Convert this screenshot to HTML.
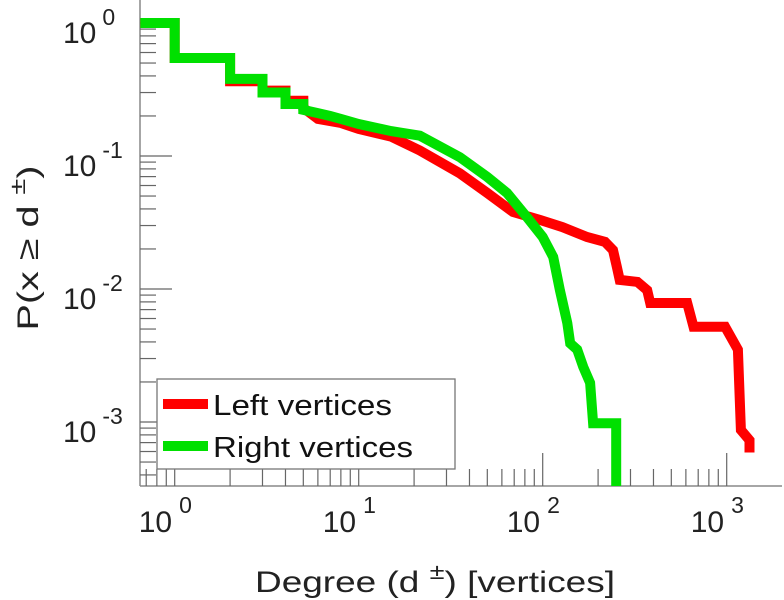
<!DOCTYPE html>
<html><head><meta charset="utf-8"><style>
html,body{margin:0;padding:0;background:#fff;}
svg{display:block;font-family:"Liberation Sans",sans-serif;}
</style></head><body>
<svg id="chart" width="784" height="600" viewBox="0 0 784 600" xmlns="http://www.w3.org/2000/svg">
<g id="axes"></g>
<g id="series"></g>
<g id="legend">
  <rect x="157" y="379" width="298" height="90" fill="#fff" stroke="#777" stroke-width="1.3"/>
  <line x1="163" y1="404" x2="208" y2="404" stroke="#ff0000" stroke-width="10"/>
  <text x="213" y="415" font-size="29" fill="#111" textLength="179" lengthAdjust="spacingAndGlyphs">Left vertices</text>
  <line x1="163" y1="446" x2="208" y2="446" stroke="#00e000" stroke-width="10"/>
  <text x="213" y="457" font-size="29" fill="#111" textLength="200" lengthAdjust="spacingAndGlyphs">Right vertices</text>
</g>
<text transform="translate(38,248) rotate(-90)" text-anchor="middle" font-size="30" fill="#222" textLength="165" lengthAdjust="spacingAndGlyphs">P(x ≥ d <tspan dy="-13" font-size="22">±</tspan><tspan dy="13">)</tspan></text>
<text x="435" y="592" text-anchor="middle" font-size="30" fill="#222" textLength="360" lengthAdjust="spacingAndGlyphs">Degree (d  <tspan dy="-13" font-size="22">±</tspan><tspan dy="13">) [vertices]</tspan></text>
</svg>
<script>
const xTicks = [1, 10, 100, 1000];
const xTickExp = ["0", "1", "2", "3"];
const yTicks = [1, 0.1, 0.01, 0.001];
const yTickExp = ["0", "-1", "-2", "-3"];
const leftDeg = [0.65,1,1,2,2,3,3,4,4,5,5,6,8,10,15,21.5,35.5,50,69,97,128,174,218,241,253,262,327,370,384,610,660,980,1150,1195,1330,1330];
const leftP = [1,1,0.546,0.546,0.365,0.365,0.31,0.31,0.26,0.26,0.23,0.19,0.177,0.16,0.14,0.11,0.074,0.0527,0.0379,0.033,0.0292,0.0246,0.0226,0.0196,0.0146,0.0117,0.0113,0.0098,0.00785,0.00785,0.0052,0.0052,0.0035,0.00087,0.00073,0.00059];
const rightDeg = [0.65,1,1,2,2,3,3,4,4,5,5,6,7,8,10,15,21.5,35.5,50,64,82,100,114,124,136,141,154,166,181,188,251,251];
const rightP = [1,1,0.546,0.546,0.38,0.38,0.30,0.30,0.246,0.246,0.222,0.21,0.2,0.19,0.174,0.154,0.142,0.098,0.0695,0.0527,0.0348,0.0246,0.0174,0.0098,0.00555,0.0039,0.0035,0.0026,0.00197,0.00098,0.00098,0.00028];

const NS = "http://www.w3.org/2000/svg";
const X0 = 174.7, XD = 184, Y0 = 23, YD = 133;
const PL = 140, PB = 486, PR = 782, PT = 0;
function sx(d){ return X0 + Math.log10(d) * XD; }
function sy(p){ return Y0 - Math.log10(p) * YD; }
function mk(tag, attrs, parent){ const e = document.createElementNS(NS, tag); for (const k in attrs) e.setAttribute(k, attrs[k]); parent.appendChild(e); return e; }

const axesG = document.getElementById('axes');
const seriesG = document.getElementById('series');

let a1 = mk('line', {x1:PL, y1:PT, x2:PL, y2:PB, stroke:'#888', 'stroke-width':1.5}, axesG);


let a2 = mk('line', {x1:PL, y1:PB, x2:PR, y2:PB, stroke:'#888', 'stroke-width':1.5}, axesG);



for (let dec = -1; dec <= 3; dec++) {
  for (let m = 1; m <= 9; m++) {
    const v = m * Math.pow(10, dec);
    const x = sx(v);
    if (x < PL || x > PR) continue;
    const len = m === 1 ? 33 : 17;
    const t = mk('line', {x1:x, y1:PB, x2:x, y2:PB-len, stroke:'#666', 'stroke-width':1.2}, axesG);
    
    
  }
}
xTicks.forEach((v, i) => {
  const x = sx(v);
  const t = mk('text', {x:x-36, y:532, 'font-size':30, fill:'#222'}, axesG);
  
  
  t.textContent = '10';
  const e = mk('tspan', {dx:7, dy:-19, 'font-size':23}, t);
  e.textContent = xTickExp[i];
});

for (let dec = -4; dec <= 0; dec++) {
  for (let m = 1; m <= 9; m++) {
    const v = m * Math.pow(10, dec);
    const y = sy(v);
    if (y < PT || y > PB) continue;
    const len = m === 1 ? 32 : 16;
    const t = mk('line', {x1:PL, y1:y, x2:PL+len, y2:y, stroke:'#666', 'stroke-width':1.2}, axesG);
    
    
  }
}
yTicks.forEach((v, i) => {
  const y = sy(v);
  const t = mk('text', {x:63, y:y+20, 'font-size':30, fill:'#222'}, axesG);
  
  
  t.textContent = '10';
  const e = mk('tspan', {dx:6, dy:-18, 'font-size':23}, t);
  e.textContent = yTickExp[i];
});

const defs = mk('defs', {}, seriesG);
const cp = mk('clipPath', {id:'plotclip'}, defs);
mk('rect', {x:PL, y:0, width:PR-PL, height:PB}, cp);

function drawSeries(deg, p, color, name) {
  const pts = deg.map((d, i) => sx(d).toFixed(1) + ',' + sy(p[i]).toFixed(1)).join(' ');
  const pl = mk('polyline', {points:pts, fill:'none', stroke:color, 'stroke-width':10, 'stroke-linejoin':'miter', 'stroke-linecap':'butt', 'clip-path':'url(#plotclip)'}, seriesG);
  
  
}
drawSeries(leftDeg, leftP, '#ff0000', 'left-vertices-line');
drawSeries(rightDeg, rightP, '#00e000', 'right-vertices-line');
</script>
</body></html>
